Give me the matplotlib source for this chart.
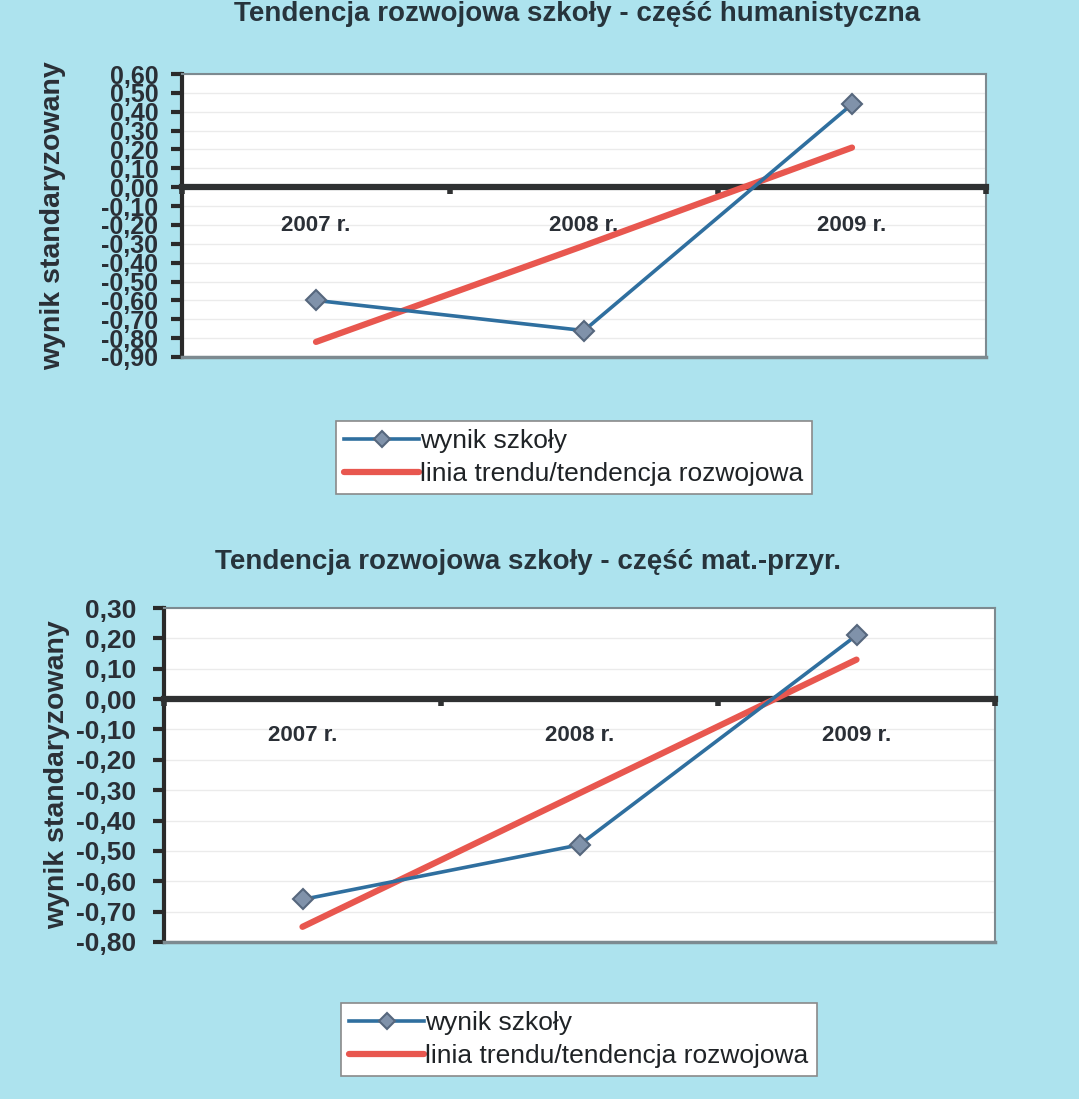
import matplotlib
matplotlib.use("Agg")
import matplotlib.pyplot as plt
from matplotlib.ticker import FixedLocator, NullFormatter
import numpy as np

plt.rcParams['font.family'] = ['Liberation Sans', 'DejaVu Sans']

categories = ['2007 r.', '2008 r.', '2009 r.']

hum_title = 'Tendencja rozwojowa szkoły - część humanistyczna'
hum_school = [-0.60, -0.76, 0.44]
hum_trend = [-0.82, -0.31, 0.21]
hum_ymin, hum_ymax = -0.90, 0.60

mat_title = 'Tendencja rozwojowa szkoły - część mat.-przyr.'
mat_school = [-0.66, -0.48, 0.21]
mat_trend = [-0.75, -0.31, 0.13]
mat_ymin, mat_ymax = -0.80, 0.30

series_names = ['wynik szkoły', 'linia trendu/tendencja rozwojowa']
ylabel = 'wynik standaryzowany'

BG = '#ade3ee'
BLUE = '#2f6f9f'
RED = '#e8574f'
W, H = 1079, 1099

fig = plt.figure(figsize=(W / 100, H / 100), dpi=100, facecolor=BG)


def px_axes(l, t, r, b):
    return fig.add_axes([l / W, 1 - b / H, (r - l) / W, (b - t) / H])


def fmt(v):
    s = f"{v:.2f}".replace('.', ',')
    if s == '-0,00':
        s = '0,00'
    return s


def draw(ax, school, trend, ymin, ymax, ylab_x, tick_fs, xlab_pad, ypad):
    x = np.arange(len(categories))
    ax.set_facecolor('white')
    ax.set_xlim(-0.5, len(categories) - 0.5)
    ax.set_ylim(ymin, ymax)
    ticks = np.round(np.arange(ymin, ymax + 0.001, 0.10), 2)
    ax.set_yticks(ticks)
    ax.set_yticklabels([fmt(v) for v in ticks], fontsize=tick_fs,
                       fontweight='bold', color='#2a2f36')
    ax.grid(axis='y', color='#ebebeb', lw=1)
    ax.set_axisbelow(True)
    for s in ['top', 'right']:
        ax.spines[s].set_color('#7d8a90')
        ax.spines[s].set_linewidth(1.5)
    ax.spines['left'].set_color('#2a2a2a')
    ax.spines['left'].set_linewidth(3)
    ax.spines['bottom'].set_position(('data', 0))
    ax.spines['bottom'].set_color('#2f3132')
    ax.spines['bottom'].set_linewidth(4.5)
    ax.spines['bottom'].set_zorder(2.5)
    ax.axhline(ymin, color='#7d8a90', lw=2.5, clip_on=False, zorder=3)
    ax.tick_params(axis='y', direction='out', length=8, width=3,
                   color='#2a2a2a', pad=ypad)
    ax.xaxis.set_major_locator(FixedLocator(np.arange(-0.5, len(categories), 1.0)))
    ax.xaxis.set_major_formatter(NullFormatter())
    ax.set_xticks(x, minor=True)
    ax.set_xticklabels(categories, minor=True, fontsize=16,
                       fontweight='bold', color='#2a2f36')
    ax.tick_params(axis='x', which='major', direction='out', length=5,
                   width=4, color='#2f3132')
    ax.tick_params(axis='x', which='minor', length=0, pad=xlab_pad)
    ax.xaxis.set_zorder(3)
    l1, = ax.plot(x, school, color=BLUE, lw=2.6, marker='D', ms=10.5,
                  mfc='#8092aa', mec='#56677d', mew=1.5, zorder=5,
                  label=series_names[0])
    l2, = ax.plot(x, trend, color=RED, lw=4.5, solid_capstyle='round',
                  zorder=4, label=series_names[1])
    ax.set_ylabel(ylabel, fontsize=20.5, fontweight='bold', color='#2a2f36')
    ax.yaxis.set_label_coords(ylab_x, 0.5)
    return l1, l2


ax1 = px_axes(182, 74, 986, 357)
h1 = draw(ax1, hum_school, hum_trend, hum_ymin, hum_ymax, -0.144, 18, 20, 9)
ax2 = px_axes(164, 608, 995, 942)
h2 = draw(ax2, mat_school, mat_trend, mat_ymin, mat_ymax, -0.113, 19, 19, 12)

fig.text(577 / W, 1 - 14 / H, hum_title, ha='center', va='center',
         fontsize=20, fontweight='bold', color='#27343c')
fig.text(528 / W, 1 - 562 / H, mat_title, ha='center', va='center',
         fontsize=20, fontweight='bold', color='#27343c')


def legend(handles, l, t):
    lg = fig.legend(handles, series_names, loc='upper left',
                    bbox_to_anchor=(l / W, 1 - t / H), frameon=True,
                    fancybox=False, framealpha=1, edgecolor='#8a8a8a',
                    facecolor='white', fontsize=19, handlelength=2.85,
                    handletextpad=0.05, borderpad=0.3, labelspacing=0.35,
                    borderaxespad=0, markerscale=0.8)
    lg.get_frame().set_linewidth(1.2)
    for t_ in lg.get_texts():
        t_.set_color('#1f2326')
    return lg


legend(h1, 336, 421)
legend(h2, 341, 1003)

fig.savefig('out.png', dpi=100, facecolor=BG)
